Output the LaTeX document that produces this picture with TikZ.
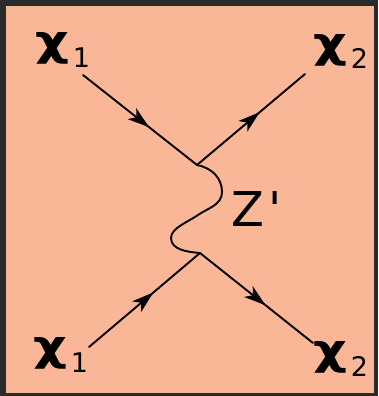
\documentclass[tikz,border=0pt]{standalone}
\usepackage{graphicx}
\usepackage{fontspec}
\setmainfont{DejaVu Sans}
\newfontfamily\zfont{DejaVu Sans}[Ligatures=TeXOff]
\usetikzlibrary{decorations.markings}

\definecolor{salmon}{RGB}{250,183,152}
\definecolor{frame}{RGB}{43,43,43}

\newcommand{\chisym}[1]{\scalebox{1.25}[1]{\fontsize{42}{42}\selectfont\bfseries χ}\kern3pt\raisebox{-12pt}{\fontsize{27}{27}\selectfont #1}}

\begin{document}
\begin{tikzpicture}[x=1pt,y=-1pt,line width=1.9pt,line cap=round,line join=round,
  fermion/.style={postaction={decorate},decoration={markings,
    mark=at position 0.58 with {\fill (0pt,0pt) -- (-22pt,7pt) -- (-16pt,0pt) -- (-22pt,-7pt) -- cycle;}}},
  label/.style={anchor=base west,inner sep=0pt}]
  \fill[frame] (0,0) rectangle (378,396);
  \fill[salmon] (6,6) rectangle (374,393);

  % vertices and free ends
  \coordinate (vtop) at (197,165);
  \coordinate (vbot) at (200,253);
  \coordinate (inA) at (83,75);
  \coordinate (outA) at (305,74);
  \coordinate (inB) at (89,347);
  \coordinate (outB) at (313,343);

  \node[label] (chiA) at (35,56) {\chisym{1}};
  \node[label] (chiB) at (313,57) {\chisym{2}};
  \node[label] (chiC) at (33,360) {\chisym{1}};
  \node[label] (chiD) at (313,364) {\chisym{2}};
  \node[label] (zlabel) at (231,226) {\zfont\fontsize{48}{48}\selectfont Z\kern4pt'};

  \draw[fermion] (inA) -- (vtop);
  \draw[fermion] (vtop) -- (outA);
  \draw[fermion] (inB) -- (vbot);
  \draw[fermion] (vbot) -- (outB);

  % Z' propagator
  \draw (vtop) .. controls (212,168) and (222,178) .. (222,192)
               .. controls (222,205) and (208,208) .. (198,215)
               .. controls (188,222) and (171,228) .. (171,238)
               .. controls (171,250) and (188,252) .. (vbot);
\end{tikzpicture}
\end{document}
